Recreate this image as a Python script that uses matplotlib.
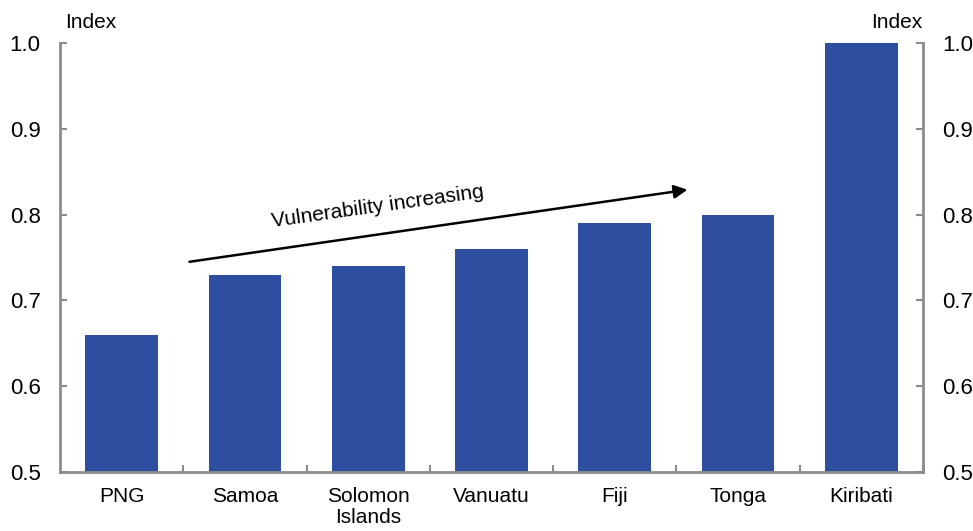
import matplotlib.pyplot as plt
import numpy as np

plt.rcParams['font.family'] = ['Liberation Sans', 'DejaVu Sans']

countries = ['PNG', 'Samoa', 'Solomon\nIslands', 'Vanuatu', 'Fiji', 'Tonga', 'Kiribati']
index_vals = [0.66, 0.73, 0.74, 0.76, 0.79, 0.80, 1.0]
yticks = [0.5, 0.6, 0.7, 0.8, 0.9, 1.0]

bar_col = '#2e4fa0'
spine_col = '#8c8c8c'

fig = plt.figure(figsize=(9.73, 5.31), dpi=100)
ax = fig.add_axes([60/973, 1 - 472/531, (923-60)/973, (472-43)/531])

x = np.arange(len(countries))
ax.bar(x, index_vals, width=0.59, color=bar_col, zorder=2)

ax.set_xlim(-0.5, len(countries) - 0.5)
ax.set_ylim(0.5, 1.0)
ax.set_yticks(yticks)
ax.set_yticklabels(['%.1f' % v for v in yticks])
ax.tick_params(axis='y', direction='in', length=5, color=spine_col, width=1.5,
               labelsize=16, pad=14, right=True, labelright=True)
ax.set_xticks(x + 0.5, minor=True)
ax.set_xticks(x)
ax.set_xticklabels(countries, linespacing=1.12)
ax.tick_params(axis='x', which='major', length=0, labelsize=15, pad=11)
ax.tick_params(axis='x', which='minor', direction='in', length=5, color=spine_col, width=1.5)

for s in ['left', 'right', 'bottom']:
    ax.spines[s].set_color(spine_col)
    ax.spines[s].set_linewidth(2)
ax.spines['top'].set_visible(False)

fig.text(65/973, 1 - 22/531, 'Index', fontsize=15, va='center', ha='left')
fig.text(922/973, 1 - 22/531, 'Index', fontsize=15, va='center', ha='right')

# trend arrow
ax.annotate('', xy=(4.59, 0.829), xytext=(0.55, 0.745),
            arrowprops=dict(arrowstyle='-|>', color='black', lw=1.8,
                            mutation_scale=20, shrinkA=0, shrinkB=0))
ax.text(2.08, 0.809, 'Vulnerability increasing', fontsize=15, rotation=8,
        ha='center', va='center')

fig.savefig('out.png', dpi=100)
